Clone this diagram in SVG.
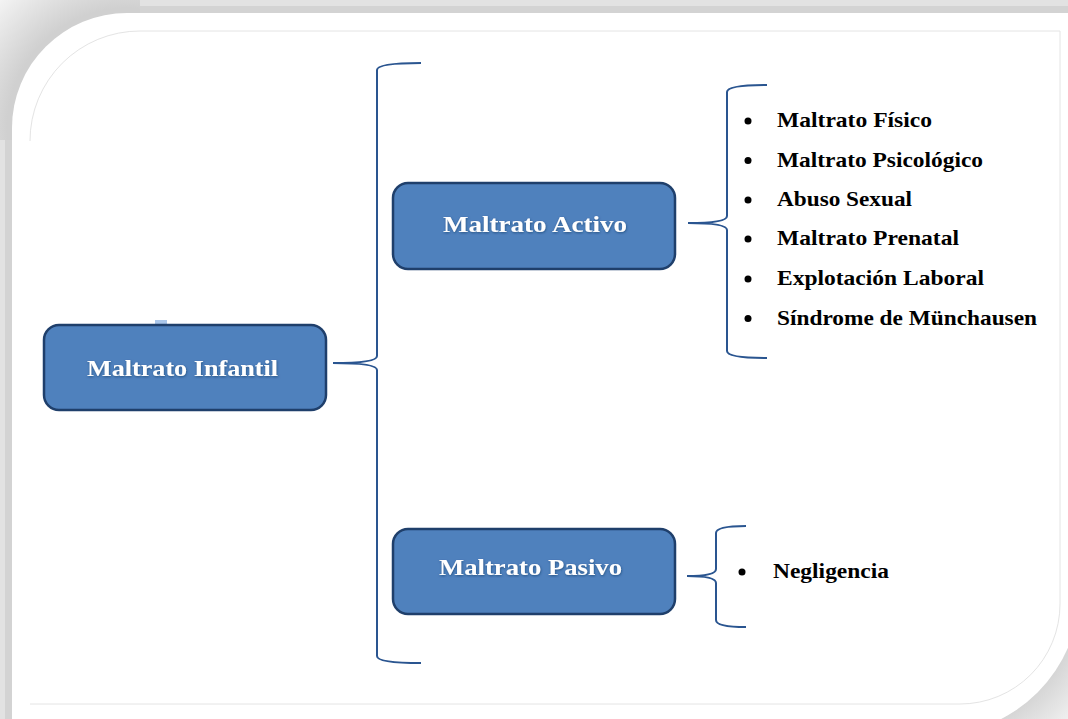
<svg xmlns="http://www.w3.org/2000/svg" width="1068" height="719" viewBox="0 0 1068 719">
<defs>
<style>
.box{fill:#4f81bd;stroke:#1f3f6b;stroke-width:2.5}
.bt{font-family:"Liberation Serif","Times New Roman",serif;font-weight:bold;font-size:24px;fill:#ffffff;filter:url(#glow)}
.lt{font-family:"Liberation Serif","Times New Roman",serif;font-weight:bold;font-size:21px;fill:#000000}
.brace{fill:none;stroke:#2a5590;stroke-width:2}
</style>
<radialGradient id="tl" gradientUnits="userSpaceOnUse" cx="127" cy="128" r="200">
<stop offset="0.6" stop-color="#d0d0d0"/>
<stop offset="1" stop-color="#ffffff"/>
</radialGradient>
<radialGradient id="br" gradientUnits="userSpaceOnUse" cx="935" cy="590" r="210">
<stop offset="0.64" stop-color="#cfcfcf"/>
<stop offset="1" stop-color="#ffffff"/>
</radialGradient>
<filter id="glow" x="-10%" y="-30%" width="120%" height="160%">
<feDropShadow dx="0.5" dy="1" stdDeviation="1" flood-color="#17355c" flood-opacity="0.6"/>
</filter>
</defs>
<g id="frame">
<rect x="0" y="0" width="1068" height="719" fill="#ffffff"/>
<rect x="0" y="0" width="1068" height="7" fill="#e2e2e2"/>
<rect x="0" y="6" width="1068" height="7" fill="#d3d3d3"/>
<rect x="0" y="0" width="6" height="719" fill="#e2e2e2"/>
<rect x="5" y="0" width="7" height="719" fill="#d3d3d3"/>
<rect x="0" y="0" width="140" height="140" fill="url(#tl)"/>
<rect x="880" y="560" width="188" height="159" fill="url(#br)"/>
<path d="M12,720 L12,128 A115,115 0 0 1 127,13 L1080,13 L1080,590 A145,145 0 0 1 935,735 L12,735 Z" fill="#ffffff"/>
<path d="M30,141 A110,110 0 0 1 140,31 L1060,31 L1060,604 A100,100 0 0 1 960,704 L30,704" fill="none" stroke="#e4e4e4" stroke-width="1"/>
</g>
<g id="connectors">
<path class="brace" d="M421,63 Q377,63 377,70 L377,356 Q377,363 333,363 Q377,363 377,370 L377,656 Q377,663 421,663"/>
<path class="brace" d="M767,85 Q727,85 727,92 L727,216 Q727,223 688,223 Q727,223 727,230 L727,351 Q727,358 767,358"/>
<path class="brace" d="M746,526 Q716,526 716,533 L716,569 Q716,576 687,576 Q716,576 716,583 L716,620 Q716,627 746,627"/>
</g>
<g id="node-infantil">
<rect x="155" y="320" width="12" height="6" fill="#aac6ea"/>
<rect class="box" x="44" y="325" width="282" height="85" rx="15"/>
<text class="bt" x="87" y="376" textLength="191" lengthAdjust="spacingAndGlyphs">Maltrato  Infantil</text>
</g>
<g id="node-activo">
<rect class="box" x="393" y="183" width="282" height="86" rx="15"/>
<text class="bt" x="443" y="232" textLength="184" lengthAdjust="spacingAndGlyphs">Maltrato  Activo</text>
</g>
<g id="node-pasivo">
<rect class="box" x="393" y="529" width="282" height="85" rx="15"/>
<text class="bt" x="439" y="575" textLength="183" lengthAdjust="spacingAndGlyphs">Maltrato  Pasivo</text>
</g>
<g id="list-activo">
<circle cx="748" cy="121" r="3.5"/>
<text class="lt" x="777" y="127" textLength="155" lengthAdjust="spacingAndGlyphs">Maltrato Físico</text>
<circle cx="748" cy="160.5" r="3.5"/>
<text class="lt" x="777" y="166.5" textLength="206" lengthAdjust="spacingAndGlyphs">Maltrato Psicológico</text>
<circle cx="748" cy="200" r="3.5"/>
<text class="lt" x="777" y="206" textLength="135" lengthAdjust="spacingAndGlyphs">Abuso Sexual</text>
<circle cx="748" cy="239" r="3.5"/>
<text class="lt" x="777" y="245" textLength="182" lengthAdjust="spacingAndGlyphs">Maltrato Prenatal</text>
<circle cx="748" cy="279" r="3.5"/>
<text class="lt" x="777" y="285" textLength="207" lengthAdjust="spacingAndGlyphs">Explotación Laboral</text>
<circle cx="748" cy="318.5" r="3.5"/>
<text class="lt" x="777" y="325" textLength="260" lengthAdjust="spacingAndGlyphs">Síndrome de Münchausen</text>
</g>
<g id="list-pasivo">
<circle cx="742" cy="572" r="3.5"/>
<text class="lt" x="773" y="578" textLength="116" lengthAdjust="spacingAndGlyphs">Negligencia</text>
</g>
</svg>
